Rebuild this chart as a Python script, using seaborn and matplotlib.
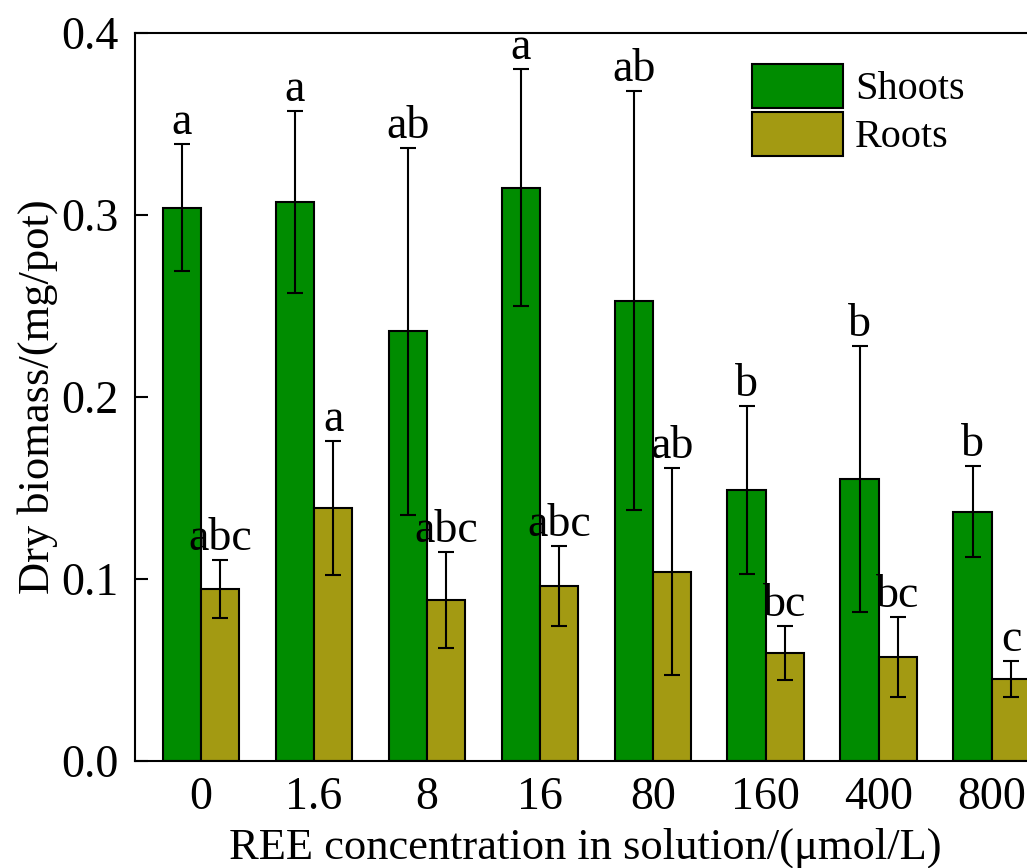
import pandas as pd
import matplotlib.pyplot as plt
import matplotlib.patches as mpatches
import seaborn as sns

# values
conc = ["0", "1.6", "8", "16", "80", "160", "400", "800"]
shoots = [0.304, 0.307, 0.236, 0.315, 0.253, 0.149, 0.155, 0.137]
shoots_sd = [0.035, 0.050, 0.101, 0.065, 0.115, 0.046, 0.073, 0.025]
roots = [0.0945, 0.139, 0.0885, 0.096, 0.104, 0.0594, 0.0573, 0.045]
roots_sd = [0.016, 0.037, 0.0265, 0.022, 0.057, 0.015, 0.022, 0.010]
shoots_letters = ["a", "a", "ab", "a", "ab", "b", "b", "b"]
roots_letters = ["abc", "a", "abc", "abc", "ab", "bc", "bc", "c"]

df = pd.DataFrame({
    "conc": conc * 2,
    "biomass": shoots + roots,
    "part": ["Shoots"] * len(conc) + ["Roots"] * len(conc),
})

colors = {"Shoots": "#008c00", "Roots": "#a39a12"}

sns.set_style("ticks")
plt.rcParams["font.family"] = ["Liberation Serif", "DejaVu Serif"]
plt.rcParams["text.color"] = "black"
plt.rcParams["axes.labelcolor"] = "black"
plt.rcParams["xtick.color"] = "black"
plt.rcParams["ytick.color"] = "black"
plt.rcParams["axes.edgecolor"] = "black"

fig = plt.figure(figsize=(10.27, 8.68), dpi=100)
ax = fig.add_axes([0.1315, 0.1233, 0.8985, 0.8387])

sns.barplot(data=df, x="conc", y="biomass", hue="part", order=conc,
            hue_order=["Shoots", "Roots"], palette=colors, width=0.68,
            errorbar=None, edgecolor="black", linewidth=1.5, saturation=1,
            legend=False, ax=ax)

for container, sd, letters in zip(ax.containers, [shoots_sd, roots_sd],
                                  [shoots_letters, roots_letters]):
    for bar, s, lab in zip(container.patches, sd, letters):
        xc = bar.get_x() + bar.get_width() / 2
        h = bar.get_height()
        ax.errorbar(xc, h, yerr=s, color="black", elinewidth=1.5,
                    capsize=6, capthick=1.5, zorder=5)
        ax.annotate(lab, (xc, h + s), xytext=(0, 0), textcoords="offset points",
                    ha="center", va="bottom", fontsize=33)

ax.set_xlim(-0.584, 7.584)
ax.set_ylim(0, 0.4)
ax.set_yticks([0.0, 0.1, 0.2, 0.3, 0.4])
ax.set_yticklabels(["0.0", "0.1", "0.2", "0.3", "0.4"])
ax.tick_params(axis="both", direction="in", length=9, width=1.5,
               labelsize=33)
ax.tick_params(axis="x", pad=11)
ax.tick_params(axis="y", pad=12)
for sp in ax.spines.values():
    sp.set_linewidth(1.5)
    sp.set_visible(True)

ax.set_xlabel("REE concentration in solution/(μmol/L)", fontsize=32)
ax.set_ylabel("Dry biomass/(mg/pot)", fontsize=32, labelpad=2)
ax.xaxis.set_label_coords(0.4875, -0.091)

handles = [mpatches.Patch(facecolor=colors[k], edgecolor="black", linewidth=1.5, label=k)
           for k in ["Shoots", "Roots"]]
ax.legend(handles=handles, loc="upper left", bbox_to_anchor=(752 / 1027, 1 - 64 / 868),
          bbox_transform=fig.transFigure, frameon=False, fontsize=29,
          handlelength=2.26, handleheight=1.3, labelspacing=0.08,
          handletextpad=0.3, borderpad=0, borderaxespad=0)

fig.savefig("out.png", dpi=100)
